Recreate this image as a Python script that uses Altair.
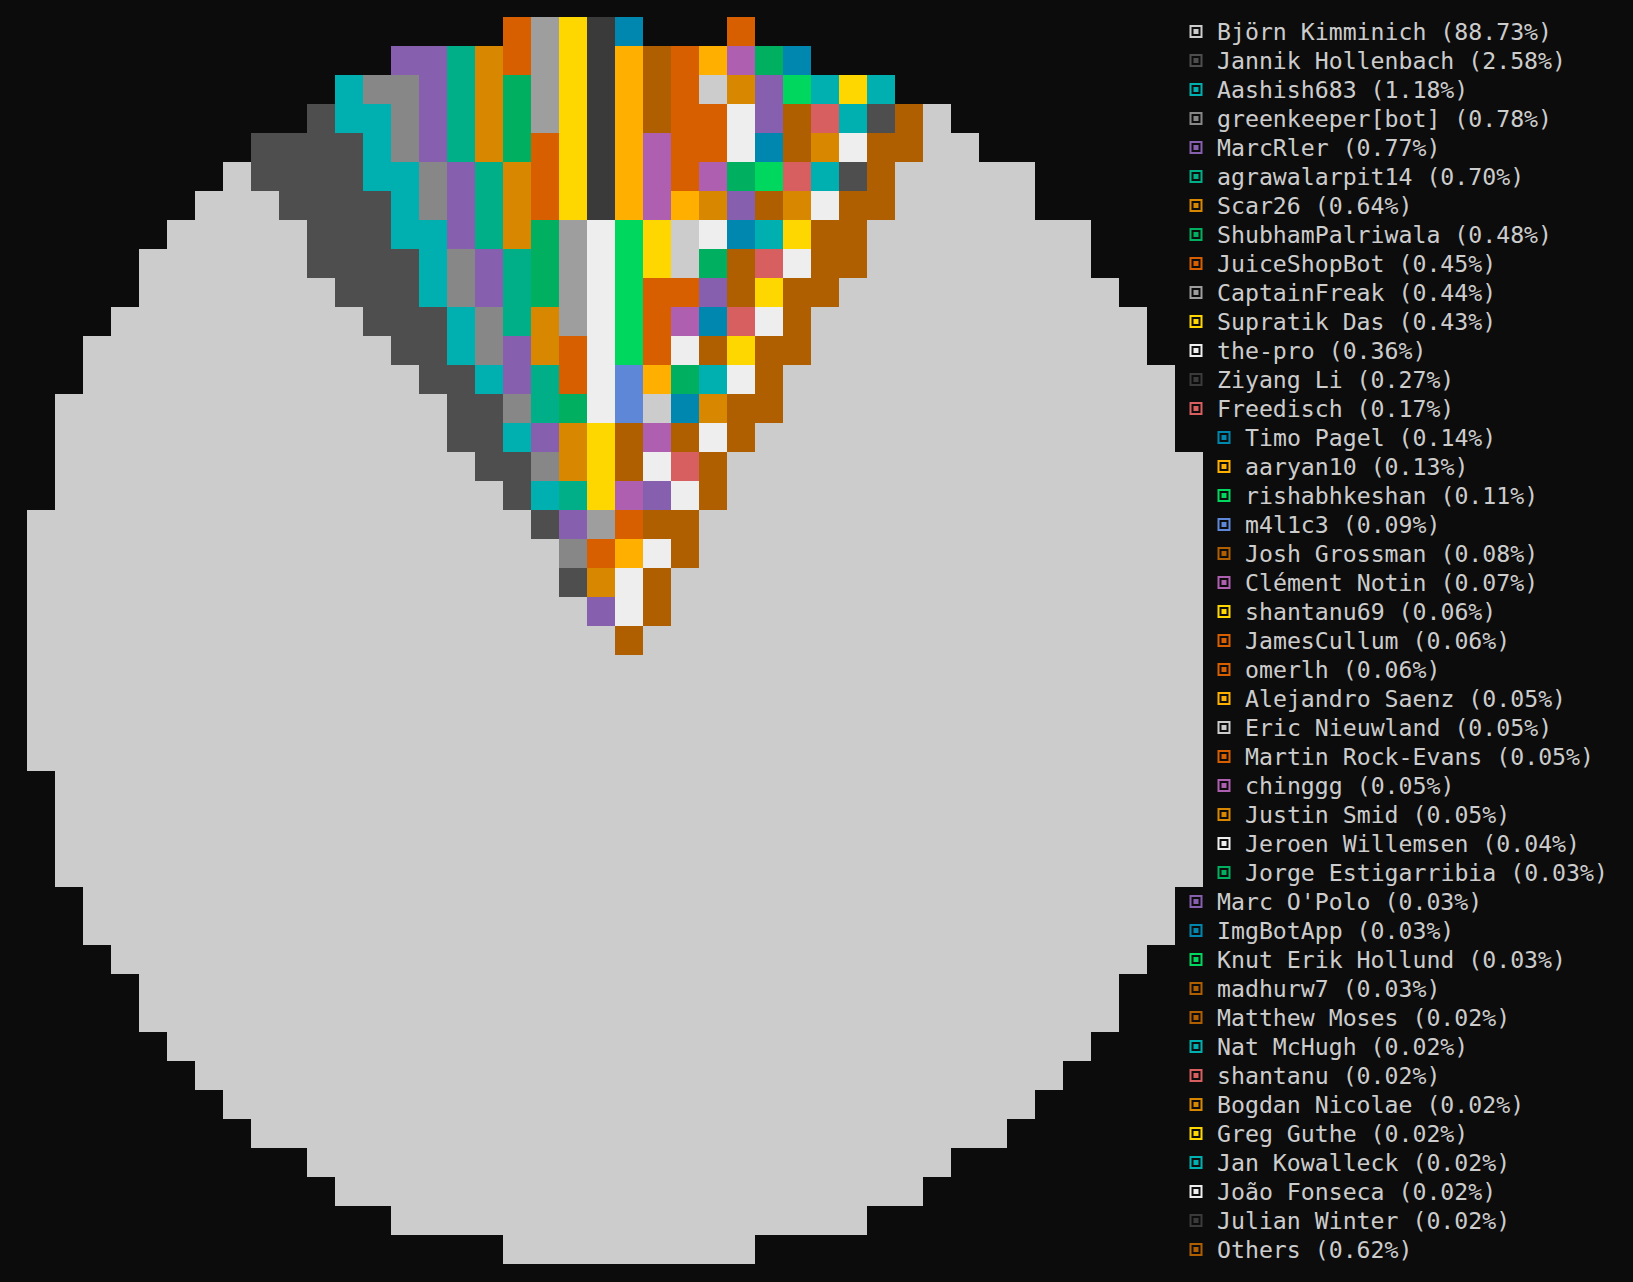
import altair as alt
import pandas as pd

# ---- contributors (legend order), share, colour ----
NAMES = [
    "Björn Kimminich", "Jannik Hollenbach", "Aashish683", "greenkeeper[bot]", "MarcRler",
    "agrawalarpit14", "Scar26", "ShubhamPalriwala", "JuiceShopBot", "CaptainFreak",
    "Supratik Das", "the-pro", "Ziyang Li", "Freedisch", "Timo Pagel", "aaryan10",
    "rishabhkeshan", "m4l1c3", "Josh Grossman", "Clément Notin", "shantanu69",
    "JamesCullum", "omerlh", "Alejandro Saenz", "Eric Nieuwland", "Martin Rock-Evans",
    "chinggg", "Justin Smid", "Jeroen Willemsen", "Jorge Estigarribia", "Marc O'Polo",
    "ImgBotApp", "Knut Erik Hollund", "madhurw7", "Matthew Moses", "Nat McHugh",
    "shantanu", "Bogdan Nicolae", "Greg Guthe", "Jan Kowalleck", "João Fonseca",
    "Julian Winter", "Others",
]
PCTS = [
    "88.73%", "2.58%", "1.18%", "0.78%", "0.77%", "0.70%", "0.64%", "0.48%", "0.45%",
    "0.44%", "0.43%", "0.36%", "0.27%", "0.17%", "0.14%", "0.13%", "0.11%", "0.09%",
    "0.08%", "0.07%", "0.06%", "0.06%", "0.06%", "0.05%", "0.05%", "0.05%", "0.05%",
    "0.05%", "0.04%", "0.03%", "0.03%", "0.03%", "0.03%", "0.03%", "0.02%", "0.02%",
    "0.02%", "0.02%", "0.02%", "0.02%", "0.02%", "0.02%", "0.62%",
]
COLORS = [
    "#cccccc", "#4e4e4e", "#00afaf", "#878787", "#875faf", "#00af87", "#d78700",
    "#00af5f", "#d75f00", "#9e9e9e", "#ffd700", "#eeeeee", "#3a3a3a", "#d75f5f",
    "#0087af", "#ffaf00", "#00d75f", "#5f87d7", "#af5f00", "#af5faf", "#ffd700",
    "#d75f00", "#d75f00", "#ffaf00", "#cccccc", "#d75f00", "#af5faf", "#d78700",
    "#eeeeee", "#00af5f", "#875faf", "#0087af", "#00d75f", "#af5f00", "#af5f00",
    "#00afaf", "#d75f5f", "#d78700", "#ffd700", "#00afaf", "#eeeeee", "#3a3a3a",
    "#af5f00",
]
# legend rows that are pushed one cell to the right by the pie
INDENTED_ROWS = [14, 15, 16, 17, 18, 19, 20, 21, 22, 23, 24, 25, 26, 27, 28, 29]

# ---- pixel pie: one entry per grid row (first column, cell codes) ----
# code letter -> index in NAMES ("A" = Björn, "B" = Jannik, ...); "." = empty cell
CODES = "ABCDEFGHIJKLMNOPQRST"
PIE_ROWS = [
    (17, "IJKMO...I"),
    (13, "EEFGIJKMPSIPTHO"),
    (11, "CDDEFGHJKMPSIAGEQCKC"),
    (10, "BCCDEFGHJKMPSIILESNCBSA"),
    (8, "BBBBCDEFGHIKMPTIILOSGLSSAA"),
    (7, "ABBBBCCDEFGIKMPTITHQNCBSAAAAA"),
    (6, "AAABBBBCDEFGIKMPTPGESGLSSAAAAA"),
    (5, "AAAAABBBCCEFGHJLQKALOCKSS" + "AAAAAAAA"),
    (4, "AAAAAABBBBCDEFHJLQKAHSNLSS" + "AAAAAAAA"),
    (4, "AAAAAAABBBCDEFHJLQIIESKSS" + "AAAAAAAAAA"),
    (3, "AAAAAAAAABBBCDFGJLQITONLS" + "AAAAAAAAAAAA"),
    (2, "AAAAAAAAAAABBCDEGILQILSKSS" + "AAAAAAAAAAAA"),
    (2, "AAAAAAAAAAAABBCEFILRPHCLS" + "AAAAAAAAAAAAAA"),
    (1, "AAAAAAAAAAAAAABBDFHLRAOGSS" + "AAAAAAAAAAAAAA"),
    (1, "AAAAAAAAAAAAAABBCEGKSTSLS" + "AAAAAAAAAAAAAAA"),
    (1, "AAAAAAAAAAAAAAABBDGKSLNS" + "AAAAAAAAAAAAAAAAA"),
    (1, "AAAAAAAAAAAAAAAABCFKTELS" + "AAAAAAAAAAAAAAAAA"),
    (0, "AAAAAAAAAAAAAAAAAABEJISS" + "AAAAAAAAAAAAAAAAAA"),
    (0, "AAAAAAAAAAAAAAAAAAADIPLS" + "AAAAAAAAAAAAAAAAAA"),
    (0, "AAAAAAAAAAAAAAAAAAABGLS" + "AAAAAAAAAAAAAAAAAAA"),
    (0, "AAAAAAAAAAAAAAAAAAAAELS" + "AAAAAAAAAAAAAAAAAAA"),
    (0, "AAAAAAAAAAAAAAAAAAAAAS" + "AAAAAAAAAAAAAAAAAAAA"),
    (0, "A" * 42),
    (0, "A" * 42),
    (0, "A" * 42),
    (0, "A" * 42),
    (1, "A" * 41),
    (1, "A" * 41),
    (1, "A" * 41),
    (1, "A" * 41),
    (2, "A" * 39),
    (2, "A" * 39),
    (3, "A" * 37),
    (4, "A" * 35),
    (4, "A" * 35),
    (5, "A" * 33),
    (6, "A" * 31),
    (7, "A" * 29),
    (8, "A" * 27),
    (10, "A" * 23),
    (11, "A" * 21),
    (13, "A" * 17),
    (17, "A" * 9),
]

cells = []
for r, (start, seg) in enumerate(PIE_ROWS):
    for i, ch in enumerate(seg):
        if ch != ".":
            cells.append({"row": r, "col": start + i, "name": NAMES[CODES.index(ch)]})
pie_df = pd.DataFrame(cells)

legend_df = pd.DataFrame({
    "name": NAMES,
    "label": [f"{n} ({p})" for n, p in zip(NAMES, PCTS)],
    "row": list(range(len(NAMES))),
    "indent": [1 if i in INDENTED_ROWS else 0 for i in range(len(NAMES))],
})

# grid units: one cell = 28 px wide, 29 px tall; grid origin at (27, 17) px
W, H = 1633, 1282
xscale = alt.Scale(domain=[-27 / 28, (W - 27) / 28], nice=False, zero=False)
yscale = alt.Scale(domain=[-17 / 29, (H - 17) / 29], nice=False, zero=False, reverse=True)
color = alt.Color("name:N", scale=alt.Scale(domain=NAMES, range=COLORS), legend=None)

pie = (
    alt.Chart(pie_df)
    .transform_calculate(c1="datum.col + 1", r1="datum.row + 1")
    .mark_rect(strokeWidth=0)
    .encode(
        x=alt.X("col:Q", scale=xscale, axis=None),
        x2="c1:Q",
        y=alt.Y("row:Q", scale=yscale, axis=None),
        y2="r1:Q",
        color=color,
    )
)

leg_base = alt.Chart(legend_df).transform_calculate(
    xm="datum.indent + 41.75", xt="datum.indent + 42.5", yc="datum.row + 0.5"
)

ring = leg_base.mark_point(shape="square", filled=False, size=121, strokeWidth=2, opacity=1).encode(
    x=alt.X("xm:Q", scale=xscale, axis=None),
    y=alt.Y("yc:Q", scale=yscale, axis=None),
    color=color,
)
dot = leg_base.mark_point(shape="square", filled=True, size=25, opacity=1).encode(
    x=alt.X("xm:Q", scale=xscale, axis=None),
    y=alt.Y("yc:Q", scale=yscale, axis=None),
    color=color,
)
text = leg_base.mark_text(
    align="left", baseline="alphabetic", dy=8, font="DejaVu Sans Mono", fontSize=23.2,
    color="#cccccc",
).encode(
    x=alt.X("xt:Q", scale=xscale, axis=None),
    y=alt.Y("yc:Q", scale=yscale, axis=None),
    text="label:N",
)

chart = (
    alt.layer(pie, ring, dot, text)
    .properties(width=W, height=H, background="#0c0c0c", padding=0, autosize="none")
    .configure_view(stroke=None)
)

chart.save("out.html", embed_options={"renderer": "svg", "actions": False})
